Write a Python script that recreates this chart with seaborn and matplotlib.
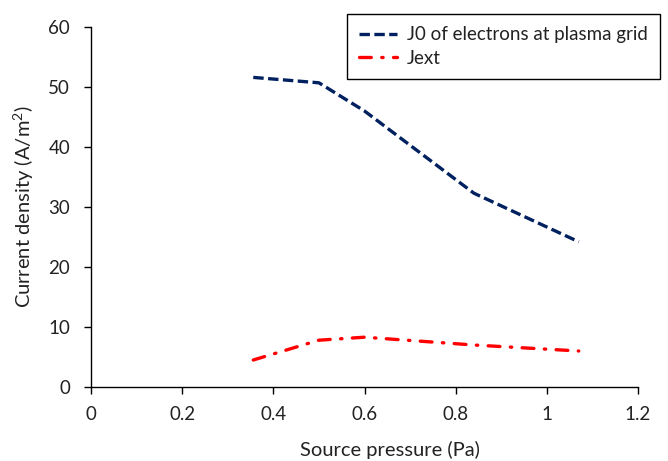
import matplotlib
matplotlib.use("Agg")
import matplotlib.pyplot as plt
import seaborn as sns
import pandas as pd

# Source pressure (Pa) and current densities (A/m^2)
pressure = [0.356, 0.50, 0.60, 0.84, 1.07]
j0_electrons = [51.6, 50.7, 46.0, 32.3, 24.2]
j_ext = [4.5, 7.8, 8.3, 7.0, 6.0]

x_ticks = [0, 0.2, 0.4, 0.6, 0.8, 1, 1.2]
x_tick_labels = ["0", "0.2", "0.4", "0.6", "0.8", "1", "1.2"]
y_ticks = [0, 10, 20, 30, 40, 50, 60]

sns.set_style("white")
plt.rcParams["font.family"] = ["Lato", "DejaVu Sans"]
plt.rcParams["mathtext.fontset"] = "custom"
plt.rcParams["mathtext.rm"] = "Lato"
plt.rcParams["lines.scale_dashes"] = False

df = pd.DataFrame({"p": pressure, "j0": j0_electrons, "jext": j_ext})

W, H = 668, 461
fig = plt.figure(figsize=(W / 100, H / 100), dpi=100)
ax = fig.add_axes([91 / W, (H - 387) / H, 547 / W, 360 / H])

sns.lineplot(data=df, x="p", y="j0", ax=ax, color="#002060", linewidth=2.4,
             linestyle=(0, (7.5, 3.2)), label="J0 of electrons at plasma grid")
sns.lineplot(data=df, x="p", y="jext", ax=ax, color="#FF0000", linewidth=2.4,
             linestyle=(0, (8.5, 7.5, 1.0, 7.5)), label="Jext",
             dash_capstyle="round")

ax.set_xlim(0, 1.2)
ax.set_ylim(0, 60)
ax.set_xticks(x_ticks)
ax.set_xticklabels(x_tick_labels)
ax.set_yticks(y_ticks)
ax.tick_params(axis="both", which="major", labelsize=13.5, length=5, width=1,
               direction="out", color="black", labelcolor="#222222",
               bottom=True, left=True)
ax.tick_params(axis="y", pad=10)
ax.tick_params(axis="x", pad=9)
for side in ("top", "right"):
    ax.spines[side].set_visible(False)
for side in ("left", "bottom"):
    ax.spines[side].set_color("black")
    ax.spines[side].set_linewidth(1.0)

ax.set_xlabel("Source pressure (Pa)", fontsize=14.5, color="#222222")
ax.set_ylabel("Current density (A/m$^2$)", fontsize=14.5, color="#222222")
ax.xaxis.set_label_coords(0.547, (387 - 459) / 360)
ax.xaxis.label.set_va("bottom")
ax.yaxis.set_label_coords(-0.10, 0.5)

leg = ax.legend(loc="upper left", bbox_to_anchor=(347 / W, 1 - 14 / H),
                bbox_transform=fig.transFigure, borderaxespad=0,
                fontsize=13.5, frameon=True, fancybox=False, framealpha=1,
                handlelength=2.0, handletextpad=0.55, labelspacing=0.35,
                borderpad=0.65)
leg.get_frame().set_edgecolor("black")
leg.get_frame().set_linewidth(1.0)
for t in leg.get_texts():
    t.set_color("#222222")

fig.savefig("out.png", dpi=100)
